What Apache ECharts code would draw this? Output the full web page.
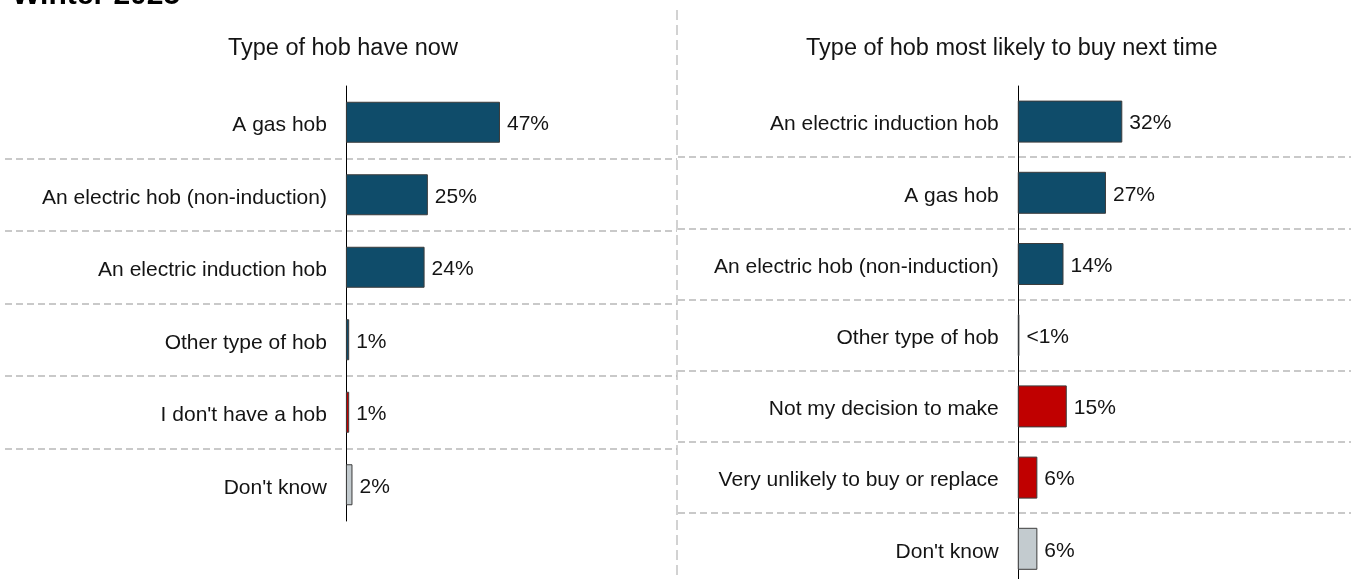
<!DOCTYPE html>
<html>
<head>
<meta charset="utf-8">
<title>Hob types</title>
<script src="https://cdn.jsdelivr.net/npm/echarts@6/dist/echarts.min.js"></script>
<style>
  html, body { margin: 0; padding: 0; background: #ffffff; }
  #chart { width: 1351px; height: 579px; }
</style>
</head>
<body>
<div id="chart"></div>
<script>
// Survey wave shown in the heading
const waveTitle = 'Winter 2025';

// Left panel: hob currently owned
const nowTitle = 'Type of hob have now';
const nowCategories = [
  'A gas hob',
  'An electric hob (non-induction)',
  'An electric induction hob',
  'Other type of hob',
  "I don't have a hob",
  "Don't know"
];
const nowValues = [47, 25, 24, 1, 1, 2];
const nowGroups = ['hob', 'hob', 'hob', 'hob', 'none', 'dk'];

// Right panel: hob most likely to buy next
const nextTitle = 'Type of hob most likely to buy next time';
const nextCategories = [
  'An electric induction hob',
  'A gas hob',
  'An electric hob (non-induction)',
  'Other type of hob',
  'Not my decision to make',
  'Very unlikely to buy or replace',
  "Don't know"
];
const nextValues = [32, 27, 14, 0.5, 15, 6, 6];
const nextGroups = ['hob', 'hob', 'hob', 'hob', 'none', 'none', 'dk'];

const groupColors = { hob: '#0F4C6A', none: '#C00000', dk: '#C3CBCF' };

const FONT = '"Liberation Sans", Arial, sans-serif';
const TEXT = '#141414';
const SEP = { color: '#b8b8b8', width: 1.5, type: [7, 4] };

// Each panel's grid spans the full half width so the row separators run
// edge to edge; the value axis starts below zero so the bars sit mid-panel.
const panels = [
  { left: 5, width: 672, top: 86, height: 435, min: -104, max: 101, barWidth: 41 },
  { left: 678, width: 673, top: 86, height: 498.4, min: -104, max: 102, barWidth: 42 }
];
const LABEL_GAP = 19;

function pct(v) {
  return v < 1 ? '<1%' : v + '%';
}

function barData(values, groups) {
  return values.map((v, i) => ({
    value: v,
    itemStyle: { color: groupColors[groups[i]] }
  }));
}

// distance from the grid's left edge to the zero line
function zeroOffset(p) {
  return -p.min * p.width / (p.max - p.min);
}

function valueAxis(gridIndex) {
  const p = panels[gridIndex];
  return {
    type: 'value', gridIndex, min: p.min, max: p.max, show: false,
    splitLine: { show: false }
  };
}

function categoryAxis(gridIndex, cats) {
  const p = panels[gridIndex];
  return {
    type: 'category', gridIndex, data: cats, inverse: true,
    axisLine: { show: true, onZero: true, lineStyle: { color: '#000000', width: 1 } },
    axisTick: { show: false },
    axisLabel: {
      margin: -(zeroOffset(p) - LABEL_GAP),
      formatter: v => '{c|' + v + '}',
      rich: {
        c: { fontSize: 21, color: TEXT, fontFamily: FONT, padding: [6, 0, 0, 0] }
      }
    },
    splitLine: { show: true, showMinLine: false, showMaxLine: false, lineStyle: SEP }
  };
}

function barSeries(idx, values, groups) {
  return {
    type: 'bar', xAxisIndex: idx, yAxisIndex: idx,
    data: barData(values, groups),
    barWidth: panels[idx].barWidth,
    itemStyle: { borderColor: '#3c3c3c', borderWidth: 1 },
    label: {
      show: true, position: 'right', distance: 7, offset: [0, 2],
      fontSize: 21, color: TEXT, fontFamily: FONT,
      formatter: p => pct(p.value)
    },
    silent: true
  };
}

const chart = echarts.init(document.getElementById('chart'), null, { renderer: 'canvas' });

chart.setOption({
  animation: false,
  backgroundColor: '#ffffff',
  grid: panels.map(p => ({
    left: p.left, width: p.width, top: p.top, height: p.height,
    containLabel: false, outerBoundsMode: 'none'
  })),
  xAxis: [valueAxis(0), valueAxis(1)],
  yAxis: [categoryAxis(0, nowCategories), categoryAxis(1, nextCategories)],
  series: [
    barSeries(0, nowValues, nowGroups),
    barSeries(1, nextValues, nextGroups)
  ],
  graphic: [
    {
      type: 'text', left: 12, top: -19,
      style: { text: waveTitle, font: 'bold 30px ' + FONT, fill: '#000000' }
    },
    {
      type: 'text', x: panels[0].left + zeroOffset(panels[0]) - 3, y: 49,
      style: { text: nowTitle, font: '23.5px ' + FONT, fill: TEXT, align: 'center', verticalAlign: 'middle' }
    },
    {
      type: 'text', x: panels[1].left + zeroOffset(panels[1]) - 6, y: 49,
      style: { text: nextTitle, font: '23.5px ' + FONT, fill: TEXT, align: 'center', verticalAlign: 'middle' }
    },
    {
      type: 'line', silent: true,
      shape: { x1: 677, y1: 10, x2: 677, y2: 579 },
      style: { stroke: '#c4c4c4', lineWidth: 1.5, lineDash: [10, 5] }
    }
  ]
});
</script>
</body>
</html>
